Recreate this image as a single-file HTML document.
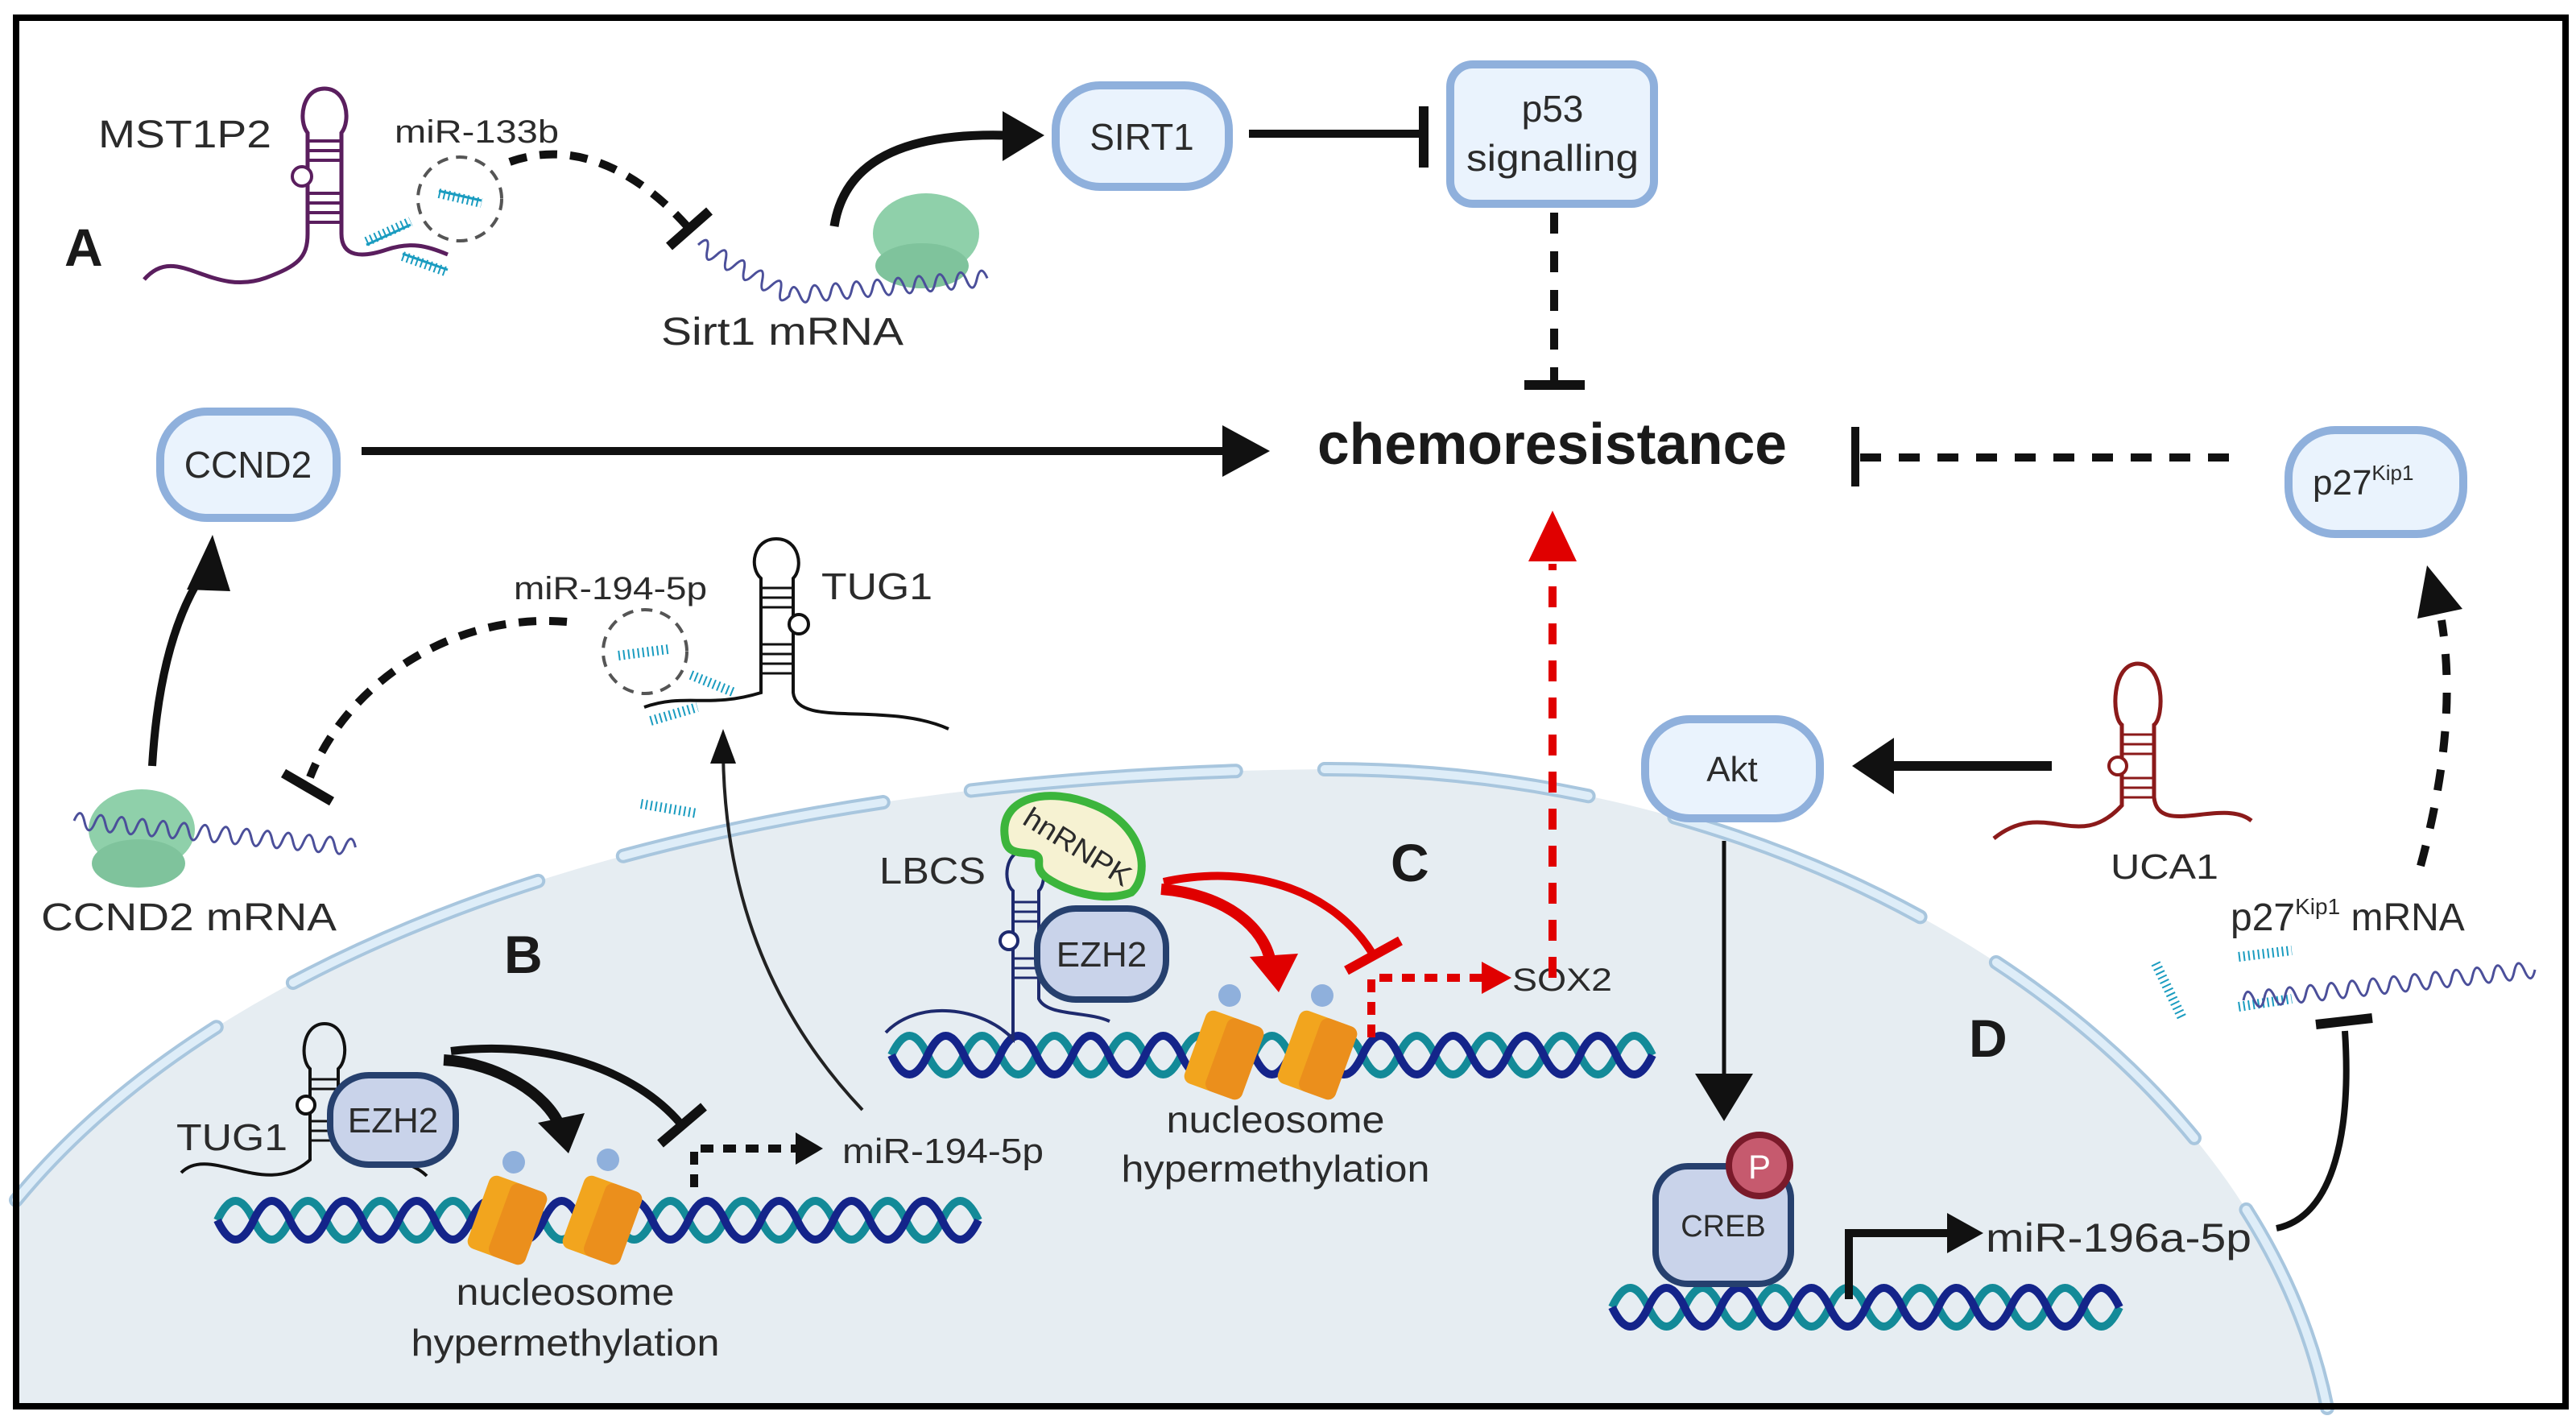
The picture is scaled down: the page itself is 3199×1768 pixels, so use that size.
<!DOCTYPE html>
<html><head><meta charset="utf-8"><style>
html,body{margin:0;padding:0;background:#fff}
svg{display:block}
text{font-family:"Liberation Sans",Arial,sans-serif;fill:#2b2b2b}
</style></head><body>
<svg width="3199" height="1768" viewBox="0 0 3199 1768" xmlns="http://www.w3.org/2000/svg">
<rect x="0" y="0" width="3199" height="1768" fill="#fff"/>
<!-- nucleus -->
<path d="M20,1490 C300,1150 900,960 1650,955 C2250,955 2800,1300 2890,1748 L20,1748 Z" fill="#e6edf2"/>
<path d="M20,1490 C300,1150 900,960 1650,955 C2250,955 2800,1300 2890,1748" fill="none" stroke="#a8c6de" stroke-width="18" stroke-linecap="round" stroke-dasharray="330 110"/>
<path d="M20,1490 C300,1150 900,960 1650,955 C2250,955 2800,1300 2890,1748" fill="none" stroke="#deedf8" stroke-width="10" stroke-linecap="round" stroke-dasharray="330 110"/>
<!-- border -->
<rect x="20" y="22" width="3166" height="1724" fill="none" stroke="#000" stroke-width="8"/>

<!-- ===== A ===== -->
<text x="80" y="330" font-size="66" font-weight="bold" style="fill:#1a1a1a">A</text>
<text x="122" y="183" font-size="48" textLength="215" lengthAdjust="spacingAndGlyphs">MST1P2</text>
<path d="M179,347 C220,300 260,370 330,345 C370,330 382,320 382,290 L382,165 C370,150 375,110 403,110 C431,110 436,150 424,165 L424,290 C424,320 450,320 480,310 C510,300 530,305 556,316" fill="none" stroke="#5a1e5e" stroke-width="5"/>
<g stroke="#5a1e5e" stroke-width="4">
<line x1="382" y1="175" x2="424" y2="175"/><line x1="382" y1="187" x2="424" y2="187"/><line x1="382" y1="199" x2="424" y2="199"/>
<line x1="382" y1="240" x2="424" y2="240"/><line x1="382" y1="252" x2="424" y2="252"/><line x1="382" y1="264" x2="424" y2="264"/><line x1="382" y1="276" x2="424" y2="276"/>
</g>
<circle cx="375" cy="219" r="12" fill="#fff" stroke="#5a1e5e" stroke-width="4"/>
<g stroke="#1a9cc0">
<line x1="455" y1="300" x2="510" y2="275" stroke-width="12" stroke-dasharray="2 4"/>
<line x1="455" y1="304" x2="510" y2="279" stroke-width="3"/>
<line x1="500" y1="318" x2="556" y2="338" stroke-width="12" stroke-dasharray="2 4"/>
<line x1="500" y1="315" x2="556" y2="335" stroke-width="3"/>
<line x1="545" y1="240" x2="598" y2="252" stroke-width="12" stroke-dasharray="2 4"/>
<line x1="545" y1="237" x2="598" y2="249" stroke-width="3"/>
</g>
<circle cx="571" cy="247" r="52" fill="none" stroke="#555" stroke-width="4" stroke-dasharray="14 10"/>
<text x="490" y="177" font-size="40" textLength="204" lengthAdjust="spacingAndGlyphs">miR-133b</text>
<path d="M633,201 C720,170 800,220 856,284" fill="none" stroke="#111" stroke-width="10" stroke-dasharray="22 16"/>
<line x1="831" y1="306" x2="881" y2="262" stroke="#111" stroke-width="12"/>
<!-- Sirt1 mRNA -->
<g transform="translate(867,304) rotate(29)"><path d="M0,0 q6.5,-20 13,0 t13,0 t13,0 t13,0 t13,0 t13,0 t13,0 t13,0 t13,0 t13,0" fill="none" stroke="#4b4f9a" stroke-width="3"/></g>
<ellipse cx="1150" cy="290" rx="66" ry="50" fill="#8fd0aa"/>
<ellipse cx="1145" cy="330" rx="58" ry="28" fill="#7fc39c"/>
<g transform="translate(980,367) rotate(-5)"><path d="M0,0 q6.5,-20 13,0 t13,0 t13,0 t13,0 t13,0 t13,0 t13,0 t13,0 t13,0 t13,0 t13,0 t13,0 t13,0 t13,0 t13,0 t13,0 t13,0 t13,0 t13,0" fill="none" stroke="#4b4f9a" stroke-width="3"/></g>
<text x="821" y="428" font-size="48" textLength="301" lengthAdjust="spacingAndGlyphs">Sirt1 mRNA</text>
<path d="M1036,281 C1050,190 1140,165 1250,168" fill="none" stroke="#111" stroke-width="11"/>
<polygon points="1297,168 1245,138 1245,200" fill="#111"/>
<!-- SIRT1 -->
<rect x="1311" y="106" width="215" height="126" rx="55" fill="#eaf3fd" stroke="#8fb0dc" stroke-width="10"/>
<text x="1418" y="186" font-size="46" text-anchor="middle">SIRT1</text>
<line x1="1551" y1="166" x2="1768" y2="166" stroke="#111" stroke-width="10"/>
<line x1="1768" y1="132" x2="1768" y2="208" stroke="#111" stroke-width="12"/>
<!-- p53 -->
<rect x="1801" y="80" width="253" height="173" rx="28" fill="#eaf3fd" stroke="#8fb0dc" stroke-width="10"/>
<text x="1928" y="151" font-size="46" text-anchor="middle">p53</text>
<text x="1928" y="212" font-size="46" text-anchor="middle" textLength="214" lengthAdjust="spacingAndGlyphs">signalling</text>
<line x1="1930" y1="264" x2="1930" y2="476" stroke="#111" stroke-width="10" stroke-dasharray="26 22"/>
<line x1="1893" y1="478" x2="1968" y2="478" stroke="#111" stroke-width="12"/>
<!-- chemoresistance -->
<text x="1636" y="576" font-size="72" font-weight="bold" textLength="583" lengthAdjust="spacingAndGlyphs" style="fill:#1a1a1a">chemoresistance</text>
<!-- p27 -->
<line x1="2310" y1="568" x2="2780" y2="568" stroke="#111" stroke-width="10" stroke-dasharray="26 22"/>
<line x1="2304" y1="530" x2="2304" y2="604" stroke="#111" stroke-width="10"/>
<rect x="2842" y="534" width="217" height="129" rx="58" fill="#eaf3fd" stroke="#8fb0dc" stroke-width="10"/>
<text x="2872" y="614" font-size="44">p27<tspan font-size="26" dy="-18">Kip1</tspan></text>
<path d="M3006,1075 C3040,950 3045,850 3032,770" fill="none" stroke="#111" stroke-width="10" stroke-dasharray="26 22"/>
<polygon points="3014,702 3002,768 3058,756" fill="#111"/>
<!-- CCND2 -->
<rect x="199" y="511" width="219" height="132" rx="58" fill="#eaf3fd" stroke="#8fb0dc" stroke-width="10"/>
<text x="308" y="593" font-size="46" text-anchor="middle">CCND2</text>
<line x1="449" y1="560" x2="1525" y2="560" stroke="#111" stroke-width="10"/>
<polygon points="1577,560 1518,528 1518,592" fill="#111"/>
<path d="M189,951 C195,850 215,770 250,715" fill="none" stroke="#111" stroke-width="10"/>
<polygon points="264,664 232,732 286,734" fill="#111"/>
<!-- TUG1 top -->
<text x="638" y="744" font-size="40" textLength="240" lengthAdjust="spacingAndGlyphs">miR-194-5p</text>
<text x="1020" y="744" font-size="46" textLength="138" lengthAdjust="spacingAndGlyphs">TUG1</text>
<path d="M800,878 C850,860 880,880 945,860 L945,718 C930,705 935,669 964,669 C993,669 998,705 985,718 L985,860 C990,905 1100,870 1178,905" fill="none" stroke="#111" stroke-width="4"/>
<g stroke="#111" stroke-width="3">
<line x1="945" y1="730" x2="985" y2="730"/><line x1="945" y1="742" x2="985" y2="742"/><line x1="945" y1="754" x2="985" y2="754"/>
<line x1="945" y1="800" x2="985" y2="800"/><line x1="945" y1="812" x2="985" y2="812"/><line x1="945" y1="824" x2="985" y2="824"/><line x1="945" y1="836" x2="985" y2="836"/>
</g>
<circle cx="992" cy="775" r="12" fill="#fff" stroke="#111" stroke-width="4"/>
<circle cx="801" cy="809" r="52" fill="none" stroke="#555" stroke-width="4" stroke-dasharray="14 10"/>
<g stroke="#1a9cc0">
<line x1="768" y1="814" x2="830" y2="806" stroke-width="12" stroke-dasharray="2 4"/>
<line x1="858" y1="838" x2="912" y2="860" stroke-width="12" stroke-dasharray="2 4"/>
<line x1="808" y1="895" x2="866" y2="878" stroke-width="12" stroke-dasharray="2 4"/>
<line x1="796" y1="998" x2="866" y2="1010" stroke-width="12" stroke-dasharray="2 4"/>
</g>
<path d="M704,772 C560,760 430,850 385,965" fill="none" stroke="#111" stroke-width="10" stroke-dasharray="22 16"/>
<line x1="352" y1="960" x2="412" y2="995" stroke="#111" stroke-width="12"/>
<!-- CCND2 mRNA -->
<ellipse cx="176" cy="1030" rx="66" ry="50" fill="#8fd0aa"/>
<ellipse cx="172" cy="1072" rx="58" ry="30" fill="#7fc39c"/>
<g transform="translate(92,1019) rotate(5.4)"><path d="M0,0 q6.5,-20 13,0 t13,0 t13,0 t13,0 t13,0 t13,0 t13,0 t13,0 t13,0 t13,0 t13,0 t13,0 t13,0 t13,0 t13,0 t13,0 t13,0 t13,0 t13,0 t13,0 t13,0 t13,0 t13,0 t13,0 t13,0 t13,0 t13,0" fill="none" stroke="#4b4f9a" stroke-width="3"/></g>
<text x="51" y="1155" font-size="48" textLength="367" lengthAdjust="spacingAndGlyphs">CCND2 mRNA</text>
<path d="M1071,1378 C950,1250 900,1100 898,935" fill="none" stroke="#222" stroke-width="4"/>
<polygon points="898,905 882,948 914,948" fill="#111"/>

<!-- ===== B ===== -->
<text x="626" y="1208" font-size="66" font-weight="bold" style="fill:#1a1a1a">B</text>
<text x="219" y="1428" font-size="46" textLength="138" lengthAdjust="spacingAndGlyphs">TUG1</text>
<g fill="none" stroke-width="10">
<path d="M270,1515 q22.5,-48 45,0 t45,0 t45,0 t45,0 t45,0 t45,0 t45,0 t45,0 t45,0 t45,0 t45,0 t45,0 t45,0 t45,0 t45,0 t45,0 t45,0 t45,0 t45,0 t45,0 t45,0" stroke="#138a98"/>
<path d="M270,1515 q22.5,48 45,0 t45,0 t45,0 t45,0 t45,0 t45,0 t45,0 t45,0 t45,0 t45,0 t45,0 t45,0 t45,0 t45,0 t45,0 t45,0 t45,0 t45,0 t45,0 t45,0 t45,0" stroke="#14248a"/>
</g>
<path d="M225,1456 C260,1420 330,1490 385,1440 L385,1327 C372,1315 375,1271 403,1271 C431,1271 434,1315 420,1327 L420,1420 C430,1440 500,1430 530,1460" fill="none" stroke="#111" stroke-width="4"/>
<g stroke="#111" stroke-width="3">
<line x1="385" y1="1340" x2="420" y2="1340"/><line x1="385" y1="1352" x2="420" y2="1352"/><line x1="385" y1="1392" x2="420" y2="1392"/><line x1="385" y1="1404" x2="420" y2="1404"/><line x1="385" y1="1416" x2="420" y2="1416"/>
</g>
<circle cx="380" cy="1372" r="11" fill="#fff" stroke="#111" stroke-width="4"/>
<rect x="410" y="1335" width="156" height="111" rx="48" fill="#c9d3ea" stroke="#26406e" stroke-width="8"/>
<text x="488" y="1406" font-size="44" text-anchor="middle">EZH2</text>
<g transform="translate(630,1515) rotate(20)"><rect x="-38" y="-48" width="76" height="96" rx="10" fill="#f2a51e"/><rect x="-10" y="-48" width="48" height="96" rx="10" fill="#e88a1c" opacity=".8"/></g>
<circle cx="638" cy="1443" r="14" fill="#8fb0dc"/>
<g transform="translate(748,1515) rotate(20)"><rect x="-38" y="-48" width="76" height="96" rx="10" fill="#f2a51e"/><rect x="-10" y="-48" width="48" height="96" rx="10" fill="#e88a1c" opacity=".8"/></g>
<circle cx="755" cy="1440" r="14" fill="#8fb0dc"/>
<path d="M551,1316 C620,1320 680,1360 695,1398" fill="none" stroke="#111" stroke-width="14"/>
<polygon points="706,1432 668,1394 726,1382" fill="#111"/>
<path d="M560,1305 C680,1290 790,1330 845,1395" fill="none" stroke="#111" stroke-width="10"/>
<line x1="820" y1="1420" x2="874" y2="1374" stroke="#111" stroke-width="12"/>
<path d="M862,1474 L862,1426 L988,1426" fill="none" stroke="#111" stroke-width="10" stroke-dasharray="16 12"/>
<polygon points="1022,1426 988,1406 988,1446" fill="#111"/>
<text x="1046" y="1444" font-size="44" textLength="250" lengthAdjust="spacingAndGlyphs">miR-194-5p</text>
<text x="702" y="1620" font-size="46" text-anchor="middle" textLength="271" lengthAdjust="spacingAndGlyphs">nucleosome</text>
<text x="702" y="1683" font-size="46" text-anchor="middle" textLength="383" lengthAdjust="spacingAndGlyphs">hypermethylation</text>

<!-- ===== C ===== -->
<text x="1727" y="1094" font-size="66" font-weight="bold" style="fill:#1a1a1a">C</text>
<text x="1092" y="1097" font-size="46" textLength="132" lengthAdjust="spacingAndGlyphs">LBCS</text>
<g fill="none" stroke-width="10">
<path d="M1107,1310 q22.5,-48 45,0 t45,0 t45,0 t45,0 t45,0 t45,0 t45,0 t45,0 t45,0 t45,0 t45,0 t45,0 t45,0 t45,0 t45,0 t45,0 t45,0 t45,0 t45,0 t45,0 t45,0" stroke="#138a98"/>
<path d="M1107,1310 q22.5,48 45,0 t45,0 t45,0 t45,0 t45,0 t45,0 t45,0 t45,0 t45,0 t45,0 t45,0 t45,0 t45,0 t45,0 t45,0 t45,0 t45,0 t45,0 t45,0 t45,0 t45,0" stroke="#14248a"/>
</g>
<path d="M1100,1282 C1140,1240 1220,1250 1258,1290 L1258,1106 C1245,1095 1248,1056 1273,1056 C1298,1056 1301,1095 1290,1106 L1290,1240 C1300,1262 1350,1255 1378,1268" fill="none" stroke="#1e2a6e" stroke-width="4"/>
<g stroke="#1e2a6e" stroke-width="3">
<line x1="1258" y1="1120" x2="1290" y2="1120"/><line x1="1258" y1="1132" x2="1290" y2="1132"/><line x1="1258" y1="1144" x2="1290" y2="1144"/>
<line x1="1258" y1="1190" x2="1290" y2="1190"/><line x1="1258" y1="1202" x2="1290" y2="1202"/><line x1="1258" y1="1214" x2="1290" y2="1214"/>
</g>
<circle cx="1253" cy="1168" r="11" fill="#fff" stroke="#1e2a6e" stroke-width="4"/>
<path d="M1248,1040 C1240,990 1300,975 1360,1000 C1420,1025 1430,1085 1405,1108 C1375,1120 1330,1110 1300,1090 C1280,1075 1300,1065 1282,1060 C1265,1058 1250,1060 1248,1040 Z" fill="#f6f2d2" stroke="#3cb53c" stroke-width="10"/>
<text x="1268" y="1022" font-size="36" transform="rotate(32 1268 1022)" textLength="150" lengthAdjust="spacingAndGlyphs">hnRNPK</text>
<rect x="1288" y="1128" width="160" height="113" rx="48" fill="#c9d3ea" stroke="#26406e" stroke-width="8"/>
<text x="1368" y="1200" font-size="44" text-anchor="middle">EZH2</text>
<g transform="translate(1520,1310) rotate(20)"><rect x="-38" y="-48" width="76" height="96" rx="10" fill="#f2a51e"/><rect x="-10" y="-48" width="48" height="96" rx="10" fill="#e88a1c" opacity=".8"/></g>
<circle cx="1527" cy="1236" r="14" fill="#8fb0dc"/>
<g transform="translate(1636,1310) rotate(20)"><rect x="-38" y="-48" width="76" height="96" rx="10" fill="#f2a51e"/><rect x="-10" y="-48" width="48" height="96" rx="10" fill="#e88a1c" opacity=".8"/></g>
<circle cx="1642" cy="1236" r="14" fill="#8fb0dc"/>
<path d="M1442,1104 C1520,1110 1570,1150 1578,1195" fill="none" stroke="#e00000" stroke-width="14"/>
<polygon points="1588,1232 1552,1188 1612,1184" fill="#e00000"/>
<path d="M1445,1095 C1560,1070 1660,1110 1705,1185" fill="none" stroke="#e00000" stroke-width="10"/>
<line x1="1672" y1="1205" x2="1739" y2="1168" stroke="#e00000" stroke-width="12"/>
<path d="M1703,1288 L1703,1214 L1840,1214" fill="none" stroke="#e00000" stroke-width="10" stroke-dasharray="16 12"/>
<polygon points="1877,1214 1840,1194 1840,1234" fill="#e00000"/>
<text x="1878" y="1230" font-size="40" textLength="124" lengthAdjust="spacingAndGlyphs">SOX2</text>
<line x1="1928" y1="1214" x2="1928" y2="700" stroke="#e00000" stroke-width="10" stroke-dasharray="26 20"/>
<polygon points="1928,634 1898,697 1958,697" fill="#e00000"/>
<text x="1584" y="1406" font-size="46" text-anchor="middle" textLength="271" lengthAdjust="spacingAndGlyphs">nucleosome</text>
<text x="1584" y="1467" font-size="46" text-anchor="middle" textLength="383" lengthAdjust="spacingAndGlyphs">hypermethylation</text>

<!-- ===== D ===== -->
<rect x="2043" y="893" width="217" height="123" rx="55" fill="#eaf3fd" stroke="#8fb0dc" stroke-width="10"/>
<text x="2151" y="970" font-size="44" text-anchor="middle">Akt</text>
<line x1="2548" y1="951" x2="2340" y2="951" stroke="#111" stroke-width="12"/>
<polygon points="2300,951 2352,916 2352,986" fill="#111"/>
<path d="M2476,1041 C2540,990 2580,1060 2635,1000 L2635,900 C2622,890 2622,824 2655,824 C2688,824 2688,890 2675,900 L2675,990 C2680,1040 2760,990 2796,1019" fill="none" stroke="#8b1a1a" stroke-width="5"/>
<g stroke="#8b1a1a" stroke-width="3">
<line x1="2635" y1="912" x2="2675" y2="912"/><line x1="2635" y1="924" x2="2675" y2="924"/><line x1="2635" y1="936" x2="2675" y2="936"/>
<line x1="2635" y1="966" x2="2675" y2="966"/><line x1="2635" y1="978" x2="2675" y2="978"/><line x1="2635" y1="990" x2="2675" y2="990"/>
</g>
<circle cx="2630" cy="951" r="11" fill="#fff" stroke="#8b1a1a" stroke-width="4"/>
<text x="2621" y="1091" font-size="44" textLength="134" lengthAdjust="spacingAndGlyphs">UCA1</text>
<text x="2770" y="1155" font-size="48">p27<tspan font-size="28" dy="-20">Kip1</tspan><tspan dy="20"> mRNA</tspan></text>
<g stroke="#1a9cc0">
<line x1="2677" y1="1196" x2="2710" y2="1264" stroke-width="12" stroke-dasharray="2 4"/>
<line x1="2780" y1="1188" x2="2846" y2="1180" stroke-width="12" stroke-dasharray="2 4"/>
<line x1="2780" y1="1250" x2="2846" y2="1240" stroke-width="12" stroke-dasharray="2 4"/>
</g>
<g transform="translate(2786,1242) rotate(-6)"><path d="M0,0 q6.5,-20 13,0 t13,0 t13,0 t13,0 t13,0 t13,0 t13,0 t13,0 t13,0 t13,0 t13,0 t13,0 t13,0 t13,0 t13,0 t13,0 t13,0 t13,0 t13,0 t13,0 t13,0 t13,0 t13,0 t13,0 t13,0 t13,0 t13,0 t13,0" fill="none" stroke="#4b4f9a" stroke-width="3"/></g>
<path d="M2827,1525 C2900,1510 2920,1400 2912,1280" fill="none" stroke="#111" stroke-width="8"/>
<line x1="2876" y1="1272" x2="2946" y2="1264" stroke="#111" stroke-width="12"/>
<line x1="2141" y1="1044" x2="2141" y2="1340" stroke="#111" stroke-width="5"/>
<polygon points="2141,1392 2105,1333 2177,1333" fill="#111"/>
<text x="2445" y="1312" font-size="66" font-weight="bold" style="fill:#1a1a1a">D</text>
<g fill="none" stroke-width="10">
<path d="M2002,1623 q22.5,-48 45,0 t45,0 t45,0 t45,0 t45,0 t45,0 t45,0 t45,0 t45,0 t45,0 t45,0 t45,0 t45,0 t45,0" stroke="#138a98"/>
<path d="M2002,1623 q22.5,48 45,0 t45,0 t45,0 t45,0 t45,0 t45,0 t45,0 t45,0 t45,0 t45,0 t45,0 t45,0 t45,0 t45,0" stroke="#14248a"/>
</g>
<rect x="2056" y="1448" width="168" height="146" rx="40" fill="#c9d3ea" stroke="#26406e" stroke-width="8"/>
<text x="2140" y="1535" font-size="38" text-anchor="middle">CREB</text>
<circle cx="2185" cy="1447" r="38" fill="#c65a6e" stroke="#7a1a2a" stroke-width="8"/>
<text x="2185" y="1463" font-size="42" text-anchor="middle" style="fill:#fff">P</text>
<path d="M2296,1613 L2296,1531 L2420,1531" fill="none" stroke="#111" stroke-width="10"/>
<polygon points="2463,1531 2418,1506 2418,1556" fill="#111"/>
<text x="2466" y="1554" font-size="50" textLength="330" lengthAdjust="spacingAndGlyphs">miR-196a-5p</text>
</svg>
</body></html>
